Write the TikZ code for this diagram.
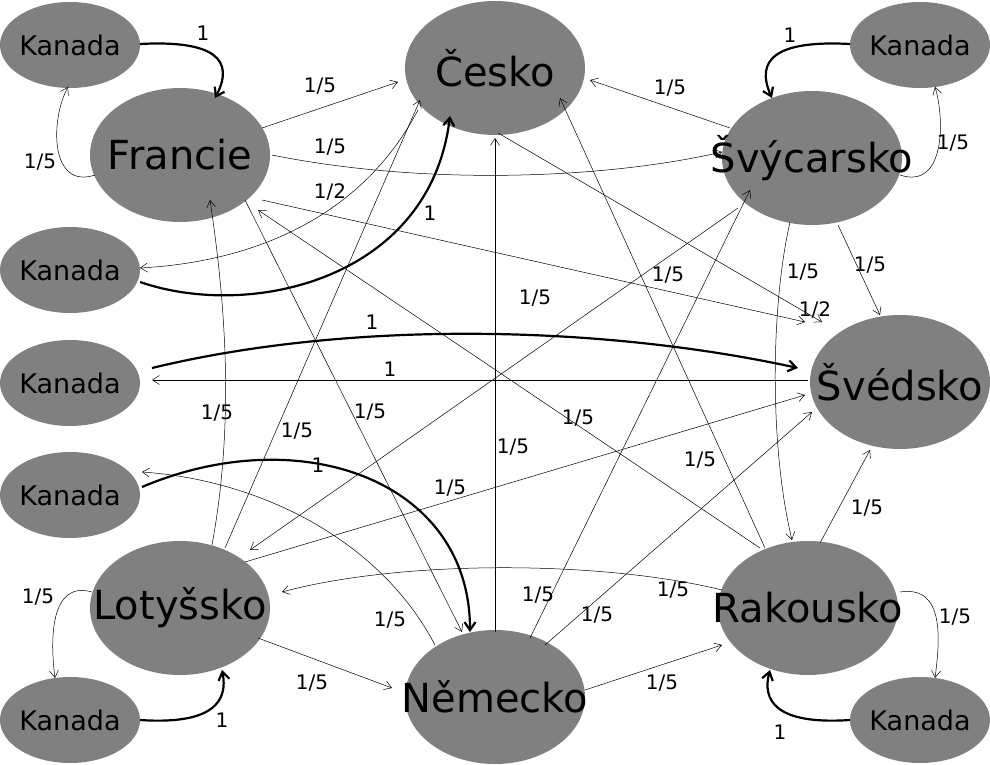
\documentclass[tikz,border=0pt]{standalone}
\usepackage{fontspec}
\setmainfont{DejaVu Sans}
\usetikzlibrary{shapes.geometric,arrows.meta}
\begin{document}
\begin{tikzpicture}[x=1pt,y=-1pt,
 st/.style={ellipse,fill=black!50,minimum width=180pt,minimum height=134pt,inner sep=0pt,inner xsep=-40pt,font=\fontsize{40}{40}\selectfont},
 kn/.style={ellipse,fill=black!50,minimum width=140pt,minimum height=86pt,inner sep=0pt,inner xsep=-30pt,font=\fontsize{27}{27}\selectfont},
 thin/.style={-{Straight Barb[length=7pt,width=9pt]},line width=0.5pt},
 thick/.style={-{Straight Barb[length=8pt,width=11pt]},line width=2.2pt},
 lb/.style={font=\fontsize{20}{20}\selectfont,inner sep=1pt}]
\useasboundingbox (0,0) rectangle (990,765);
\node[st] (ce) at (495,68) {Česko};
\node[st] (fr) at (180,155) {Francie};
\node[st] (sv) at (812,158) {Švýcarsko};
\node[st] (sw) at (900,382) {Švédsko};
\node[st] (ra) at (808,608) {Rakousko};
\node[st] (ne) at (495,697) {Německo};
\node[st] (lo) at (180,608) {Lotyšsko};
\node[kn] (k1) at (70,45) {Kanada};
\node[kn] (k2) at (920,45) {Kanada};
\node[kn] (k3) at (70,270) {Kanada};
\node[kn] (k4) at (70,383) {Kanada};
\node[kn] (k5) at (70,495) {Kanada};
\node[kn] (k6) at (70,720) {Kanada};
\node[kn] (k7) at (920,720) {Kanada};
% Kanada loops
\draw[thick] (140,44) .. controls (215,40) and (235,60) .. (215,98);
\node[lb] (l1) at (203,33) {1};
\draw[thin] (95,175) .. controls (50,190) and (50,120) .. (68,87);
\node[lb] (l2) at (40,162) {1/5};
\draw[thick] (850,44) .. controls (775,40) and (755,60) .. (772,98);
\node[lb] (l3) at (790,35) {1};
\draw[thin] (900,175) .. controls (945,190) and (945,120) .. (935,87);
\node[lb] (l4) at (953,143) {1/5};
\draw[thin] (92,592) .. controls (50,580) and (50,640) .. (55,678);
\node[lb] (l5) at (38,597) {1/5};
\draw[thick] (140,720) .. controls (215,725) and (228,700) .. (222,670);
\node[lb] (l6) at (222,720) {1};
\draw[thin] (900,592) .. controls (945,585) and (940,640) .. (935,678);
\node[lb] (l7) at (955,617) {1/5};
\draw[thick] (850,720) .. controls (775,725) and (762,700) .. (770,670);
\node[lb] (l8) at (780,732) {1};
% Francie
\draw[thin] (262,128) -- (398,82);
\node[lb] (l9) at (320,86) {1/5};
\draw[thin] (272,155) .. controls (420,185) and (600,180) .. (722,152);
\node[lb] (l10) at (330,147) {1/5};
\draw[thin] (262,200) -- (805,322);
\node[lb] (l11) at (535,298) {1/5};
\draw[thin] (245,200) -- (462,632);
\node[lb] (l12) at (370,412) {1/5};
% Cesko
\draw[thin] (418,110) .. controls (360,220) and (250,262) .. (140,268);
\node[lb] (l13) at (330,192) {1/2};
\draw[thick] (140,282) .. controls (250,320) and (430,280) .. (450,116);
\node[lb] (l14) at (430,213) {1};
\draw[thin] (498,133) -- (822,322);
\node[lb] (l15) at (815,310) {1/2};
% Kanada4 / Svedsko
\draw[thick] (152,368) .. controls (350,320) and (600,325) .. (798,368);
\node[lb] (l16) at (372,322) {1};
\draw[thin] (808,380) -- (152,380);
\node[lb] (l17) at (390,369) {1};
% Rakousko
\draw[thin] (760,548) -- (258,210);
\node[lb] (l18) at (578,418) {1/5};
\draw[thin] (765,548) -- (560,98);
\node[lb] (l19) at (700,460) {1/5};
\draw[thin] (722,590) .. controls (600,560) and (400,560) .. (282,592);
\node[lb] (l20) at (673,590) {1/5};
\draw[thin] (820,543) -- (870,450);
\node[lb] (l21) at (867,508) {1/5};
% Lotyssko
\draw[thin] (212,545) .. controls (235,420) and (225,300) .. (210,200);
\node[lb] (l22) at (217,413) {1/5};
\draw[thin] (225,548) -- (420,100);
\node[lb] (l23) at (297,431) {1/5};
\draw[thin] (245,562) -- (805,395);
\node[lb] (l24) at (450,488) {1/5};
\draw[thin] (258,638) -- (392,688);
\node[lb] (l25) at (312,683) {1/5};
% Svycarsko
\draw[thin] (738,208) -- (250,550);
\node[lb] (l26) at (668,275) {1/5};
\draw[thin] (790,222) .. controls (770,310) and (770,450) .. (792,540);
\node[lb] (l27) at (803,272) {1/5};
\draw[thin] (838,225) -- (880,315);
\node[lb] (l28) at (870,265) {1/5};
\draw[thin] (730,128) -- (590,80);
\node[lb] (l29) at (670,88) {1/5};
% Nemecko
\draw[thin] (495,632) -- (495,138);
\node[lb] (l30) at (513,447) {1/5};
\draw[thick] (142,487) .. controls (300,420) and (470,480) .. (470,632);
\node[lb] (l31) at (318,465) {1};
\draw[thin] (435,645) .. controls (380,540) and (260,480) .. (142,472);
\node[lb] (l32) at (390,620) {1/5};
\draw[thin] (530,638) -- (750,190);
\node[lb] (l33) at (538,595) {1/5};
\draw[thin] (545,645) -- (812,412);
\node[lb] (l34) at (597,615) {1/5};
\draw[thin] (585,690) -- (722,645);
\node[lb] (l35) at (662,683) {1/5};
\end{tikzpicture}
\end{document}
